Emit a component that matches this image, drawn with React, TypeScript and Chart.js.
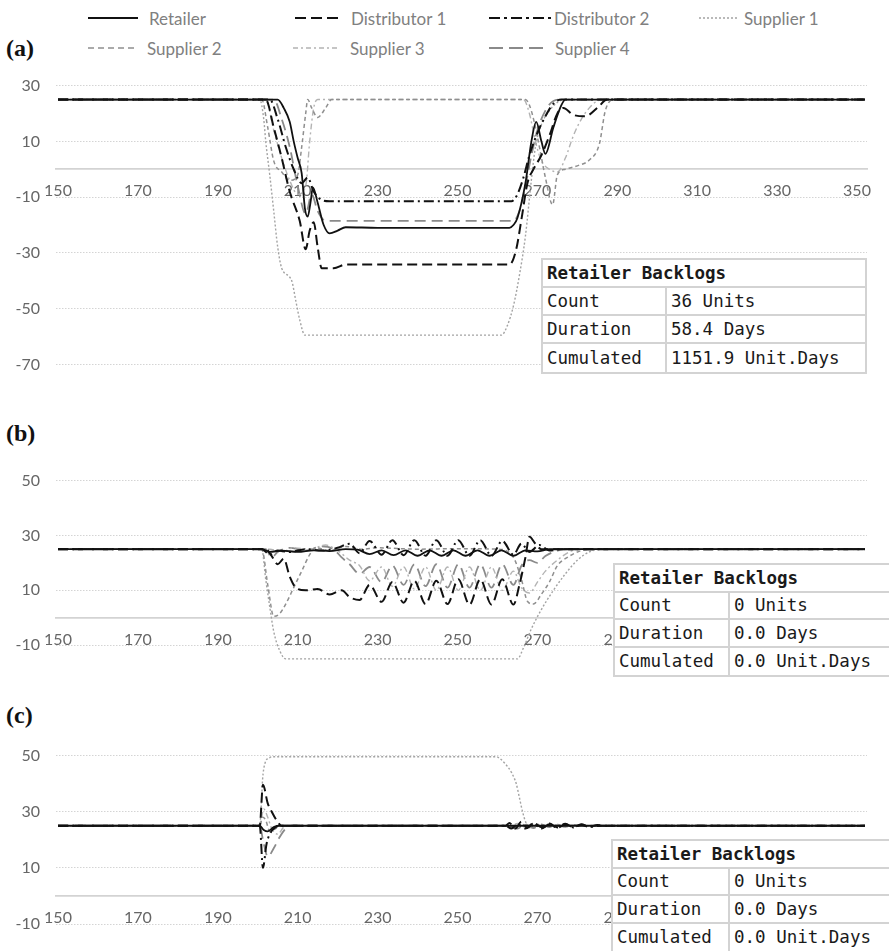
import React, { useEffect, useRef } from 'react';
import { Chart, registerables } from 'chart.js';

Chart.register(...registerables);

type Pt = [number, number];

// ---------- axis ticks ----------
const X_TICKS = [150, 170, 190, 210, 230, 250, 270, 290, 310, 330, 350];
const Y_TICKS_A = [-70, -50, -30, -10, 10, 30];
const Y_TICKS_BC = [-10, 10, 30, 50];

// ---------- series names ----------
const SERIES_NAMES = ['Retailer', 'Distributor 1', 'Distributor 2', 'Supplier 1', 'Supplier 2', 'Supplier 3', 'Supplier 4'];

// ---------- panel (a) ----------
const A_RETAILER: Pt[] = [[150, 25], [205, 25], [206.5, 22], [208, 17], [209, 10], [210, 4], [211, -1.5], [211.8, -14], [212.5, -17], [213.2, -12], [213.8, -6.5], [215, -12], [216.5, -20], [218, -23], [220, -22], [222, -20.8], [230, -21], [263, -21], [264, -20], [265, -17.5], [267, -5], [268.5, 10], [269.7, 17], [271, 10], [272, 5.5], [274, 15], [276, 23], [277, 25], [352, 25]];
const A_DIST1: Pt[] = [[150, 25], [202, 25], [204, 15], [206, 4], [208, -8], [210.5, -18.5], [212, -28.7], [213, -22], [214, -19], [215, -28], [216, -35.5], [219, -35.5], [222, -34.2], [263, -34.2], [264.7, -28.7], [266, -18], [267.5, -5], [269, 0], [271, 5], [273, 12], [275, 20], [276.5, 22], [279, 19.5], [282, 19], [285, 22], [287.5, 25], [352, 25]];
const A_DIST2: Pt[] = [[150, 25], [203, 25], [205, 18], [207, 8], [209, 0], [211, -5], [212.5, -3], [214, -8], [216, -11], [218, -11.5], [263.5, -11.5], [265, -9], [266.5, -3], [268, 5], [270, 13], [272, 19], [274, 23.5], [276, 25], [352, 25]];
const A_SUP1: Pt[] = [[150, 25], [200.5, 25], [201.5, 18], [202, 10], [203, -2], [204, -15], [205, -28], [206, -35.5], [208.5, -40], [209.5, -47], [210.5, -54], [211.8, -59.5], [261, -59.5], [262.5, -56], [264, -49], [265.5, -38], [267, -24], [268.4, -5], [269.5, 8], [271, 16], [273, 21], [275, 24], [277, 25], [352, 25]];
const A_SUP2: Pt[] = [[150, 25], [201, 25], [202.5, 15], [204, 3], [206, -1], [208, -4], [210, -2], [211, 8], [212, 20], [212.5, 25], [213.5, 22], [215, 18.6], [217, 22], [218.5, 25], [267, 25], [268, 23], [269.2, 17], [270.5, 8], [272, -3], [273.8, -12.7], [275, -2], [277, 0], [280.5, 1.5], [283, 3.3], [285.5, 9], [287, 21], [289, 25], [352, 25]];
const A_SUP3: Pt[] = [[150, 25], [202, 25], [204, 14], [206, 4], [208, -4], [210, -9], [212, -6], [213, 10], [214, 22], [215, 25], [266.5, 25], [268, 20], [269.5, 10], [271, 3], [273, 0], [275, -1], [277, 4], [279, 12], [281, 18], [283, 22], [285, 24.5], [287, 25], [352, 25]];
const A_SUP4: Pt[] = [[150, 25], [204, 25], [206, 18], [208, 8], [210, -6], [212, -16], [213.5, -9], [215, -15], [217, -18.5], [264, -18.5], [265.5, -15], [267, -6], [268.5, 5], [270, 14], [272, 21], [274, 24.5], [276, 25], [352, 25]];

// ---------- panel (b) ----------
const B_RETAILER: Pt[] = [[150, 25], [201, 25], [203, 24], [206, 24.5], [210, 24], [214, 24.6], [218, 24.3], [222, 25], [225, 24.8], [228, 23.2], [231, 24.6], [234, 22.8], [237, 24.6], [240, 22.6], [243, 24.6], [246, 22.6], [249, 24.6], [252, 22.6], [255, 24.6], [258, 22.6], [261, 24.6], [264, 22.6], [267, 24.6], [270, 24.2], [273, 25], [352, 25]];
const B_DIST1: Pt[] = [[150, 25], [202, 25], [203.5, 22.5], [205, 19.5], [206.5, 21.5], [208, 15], [209.5, 11], [212, 10], [215, 10.5], [218, 8.5], [221, 10], [223, 7.5], [225.5, 6.5], [228, 12], [231, 5.8], [233.7, 13], [236.5, 5.5], [239.2, 13.5], [242, 5], [244.7, 13.5], [247.5, 5], [250.2, 14], [253, 4.8], [255.7, 14], [258.5, 4.8], [261.2, 14], [264, 4.8], [265.5, 12], [267, 22], [268, 29.5], [269.5, 27], [271, 25], [352, 25]];
const B_DIST2: Pt[] = [[150, 25], [201, 25], [203, 23], [205, 24.5], [208, 24], [212, 25], [216, 24.5], [220, 25.5], [223, 27], [225.5, 23.5], [228, 28], [231, 23], [233.7, 28.3], [236.5, 22.8], [239.2, 28.3], [242, 22.6], [244.7, 28.3], [247.5, 22.6], [250.2, 28.3], [253, 22.6], [255.7, 28.3], [258.5, 22.6], [261.2, 28], [264, 23], [266, 27], [268, 24], [270.5, 26.5], [273, 24.5], [276, 25], [352, 25]];
const B_SUP1: Pt[] = [[150, 25], [201, 25], [202, 14], [203, 4], [204, -5], [205.5, -12], [207, -15], [265, -15], [266.5, -11], [268.5, -4], [271, 3], [274, 10], [277, 16], [280, 21], [283, 24], [286, 25], [352, 25]];
const B_SUP2: Pt[] = [[150, 25], [201, 25], [202.5, 12], [204, 0.5], [205.5, 1.5], [207, 5], [209, 11], [211, 17], [213, 23], [214.5, 25.5], [218, 24.5], [222, 26], [226, 25], [230, 25.5], [240, 25], [250, 25.2], [260, 25], [264, 22], [266, 14], [267.5, 6], [269, 5], [271, 8.6], [273, 13], [275, 19], [277.5, 22], [281, 24.5], [284, 25], [352, 25]];
const B_SUP3: Pt[] = [[150, 25], [203, 25], [206, 24], [209, 25.5], [213, 25], [217, 26.5], [220, 24.5], [223, 21], [225.5, 19], [228, 13.5], [231, 18.5], [233.7, 11.5], [236.5, 18.5], [239.2, 10.5], [242, 18.5], [244.7, 10], [247.5, 18.5], [250.2, 10], [253, 18.5], [255.7, 10], [258.5, 18.5], [261.2, 10], [264, 17], [266, 11], [268, 9], [270, 13], [272, 17], [275, 21], [278, 24], [281, 25], [352, 25]];
const B_SUP4: Pt[] = [[150, 25], [202, 25], [203.5, 22], [205, 24], [208, 25.5], [212, 24.5], [216, 26], [219, 25], [221, 22], [223, 19.5], [225.5, 16], [228, 18.5], [231, 13], [233.7, 19], [236.5, 12], [239.2, 19.5], [242, 11.5], [244.7, 19.5], [247.5, 11], [250.2, 19.5], [253, 11], [255.7, 19.5], [258.5, 11], [261.2, 19.5], [264, 12], [266, 19], [268, 21], [270, 20], [272, 22.5], [275, 24.5], [278, 25], [352, 25]];

// ---------- panel (c) ----------
const C_RETAILER: Pt[] = [[150, 25], [200.5, 25], [201.5, 23.5], [202.5, 23], [204, 24.5], [205.5, 25], [352, 25]];
const C_DIST1: Pt[] = [[150, 25], [200.5, 25], [201.3, 39.6], [202.5, 33], [203.5, 30], [204.7, 27], [206, 25], [262, 25], [263, 26], [264.5, 24], [266, 26.5], [267.5, 24.2], [269, 26], [271, 24.5], [273, 25.8], [275, 24.4], [277, 25.7], [279, 24.5], [281, 25.5], [283, 24.6], [285, 25.3], [287, 25], [352, 25]];
const C_DIST2: Pt[] = [[150, 25], [200.5, 25], [201.3, 10], [202.2, 18.5], [203.4, 23], [204.5, 24.5], [206, 25], [262, 25], [263.5, 24], [265, 25.5], [267, 24], [269, 25.8], [271, 24], [273, 25.5], [275, 24.3], [277, 25.5], [279, 24.4], [281, 25.4], [283, 24.6], [286, 25], [352, 25]];
const C_SUP1: Pt[] = [[150, 25], [200.5, 25], [200.9, 33], [201.2, 41.3], [201.75, 47], [203, 49.3], [204, 49.6], [259.7, 49.6], [261, 48.5], [262, 47], [263.5, 44], [264.7, 40], [265.5, 35], [266.3, 29.9], [267.2, 25.9], [268, 25], [352, 25]];
const C_SUP2: Pt[] = [[150, 25], [200.5, 25], [201.2, 28], [202, 27], [203, 23], [204.5, 24], [206, 25], [262, 25], [264, 24.2], [266, 25.6], [268, 24.3], [270, 25.5], [272, 24.5], [274, 25.3], [276, 24.6], [278, 25.2], [281, 25], [352, 25]];
const C_SUP3: Pt[] = [[150, 25], [200.5, 25], [201.5, 31], [202.5, 28], [203.5, 24], [205, 22], [206.5, 24.5], [208, 25], [263, 25], [265, 25.8], [267, 24.5], [269, 25.6], [271, 24.6], [274, 25.4], [277, 24.8], [280, 25.2], [284, 25], [352, 25]];
const C_SUP4: Pt[] = [[150, 25], [200.5, 25], [201.3, 20], [202.5, 14], [204, 17], [205.5, 21], [207, 24], [208.5, 25], [263, 25], [265, 24], [267, 25.5], [269, 24.2], [271, 25.5], [273, 24.5], [275, 25.4], [277, 24.6], [279, 25.3], [282, 25], [352, 25]];

// ---------- tables ----------
const TABLE_TITLE = 'Retailer Backlogs';
const TABLE_LABELS = ['Count', 'Duration', 'Cumulated'];
const TABLE_A_VALUES = ['36 Units', '58.4 Days', '1151.9 Unit.Days'];
const TABLE_B_VALUES = ['0 Units', '0.0 Days', '0.0 Unit.Days'];
const TABLE_C_VALUES = ['0 Units', '0.0 Days', '0.0 Unit.Days'];

// ---------- styles ----------
const STYLES = [
  { color: '#111111', width: 1.8, dash: [] as number[] },
  { color: '#111111', width: 2, dash: [10, 5] },
  { color: '#111111', width: 2, dash: [10, 4, 2, 4] },
  { color: '#a3a3a3', width: 1.4, dash: [2, 2] },
  { color: '#8f8f8f', width: 1.5, dash: [4, 3] },
  { color: '#b3b3b3', width: 1.4, dash: [6, 3, 2, 3] },
  { color: '#8a8a8a', width: 1.8, dash: [11, 6] },
];

const LEGEND_DASH = ['', '11 5', '11 4 3 4', '2 2', '6 4', '5 3 2 3', '14 6'];

const LEGEND_POS = [
  { x1: 88, x2: 138, tx: 149, y: 18 },
  { x1: 295, x2: 341, tx: 351, y: 18 },
  { x1: 489, x2: 551, tx: 554, y: 18 },
  { x1: 699, x2: 739, tx: 744, y: 18 },
  { x1: 88, x2: 137, tx: 147, y: 48 },
  { x1: 293, x2: 340, tx: 350, y: 48 },
  { x1: 489, x2: 545, tx: 555, y: 48 },
];

const TICK_FONT = { family: 'Lato', size: 16 };

type PanelProps = {
  top: number; height: number; padTop: number; padBottom: number;
  yMin: number; yMax: number; yTicks: number[]; series: Pt[][];
};

function Panel({ top, height, padTop, padBottom, yMin, yMax, yTicks, series }: PanelProps) {
  const ref = useRef<HTMLCanvasElement>(null);
  useEffect(() => {
    const chart = new Chart(ref.current as HTMLCanvasElement, {
      type: 'line',
      data: {
        datasets: series.map((pts, i) => ({
          label: SERIES_NAMES[i],
          data: pts.map(([x, y]) => ({ x, y })),
          borderColor: STYLES[i].color,
          backgroundColor: STYLES[i].color,
          borderWidth: STYLES[i].width,
          borderDash: STYLES[i].dash,
          pointRadius: 0,
          fill: false,
          cubicInterpolationMode: 'monotone' as const,
        })),
      },
      options: {
        responsive: false,
        maintainAspectRatio: false,
        animation: false,
        events: [],
        layout: { padding: { left: 0, right: 22, top: padTop, bottom: padBottom } },
        plugins: { legend: { display: false }, tooltip: { enabled: false } },
        scales: {
          x: {
            type: 'linear',
            position: { y: 0 } as any,
            min: 149.5,
            max: 352.5,
            afterBuildTicks: (s: any) => { s.ticks = X_TICKS.map((v) => ({ value: v })); },
            grid: { display: false, drawTicks: false },
            border: { display: true, color: '#d3d3d3', width: 1.8 },
            ticks: { color: '#666666', font: TICK_FONT, padding: 12, maxRotation: 0, autoSkip: false },
          },
          y: {
            type: 'linear',
            min: yMin,
            max: yMax,
            afterBuildTicks: (s: any) => { s.ticks = yTicks.map((v) => ({ value: v })); },
            afterFit: (s: any) => { s.width = 56; },
            grid: { color: '#d4d4d4', lineWidth: 1, drawTicks: false },
            border: { display: false, dash: [1.5, 1.5] },
            ticks: { color: '#666666', font: TICK_FONT, padding: 16 },
          },
        },
      } as any,
    });
    return () => chart.destroy();
  }, []);
  return (
    <canvas
      ref={ref}
      width={889}
      height={height}
      style={{ position: 'absolute', left: 0, top, width: 889, height, display: 'block' }}
    />
  );
}

type TableProps = { left: number; top: number; width: number; col: number; rowH: number; values: string[] };

function BacklogTable({ left, top, width, col, rowH, values }: TableProps) {
  const border = '2px solid #d3d3d3';
  const row = (last: boolean): React.CSSProperties => ({
    boxSizing: 'border-box', height: rowH, display: 'flex', borderBottom: last ? 'none' : border,
  });
  const cell: React.CSSProperties = {
    boxSizing: 'border-box', height: '100%', display: 'flex', alignItems: 'center', paddingLeft: 4,
    whiteSpace: 'nowrap', overflow: 'hidden',
  };
  return (
    <div style={{
      position: 'absolute', left, top, width, background: '#fff', border, boxSizing: 'border-box',
      fontFamily: '"DejaVu Sans Mono", "Liberation Mono", monospace', fontSize: 17.5, color: '#1a1a1a',
    }}>
      <div style={row(false)}>
        <div style={{ ...cell, fontWeight: 'bold', flex: 1 }}>{TABLE_TITLE}</div>
      </div>
      {TABLE_LABELS.map((lab, i) => (
        <div key={lab} style={row(i === TABLE_LABELS.length - 1)}>
          <div style={{ ...cell, width: col, flex: 'none', borderRight: border }}>{lab}</div>
          <div style={{ ...cell, flex: 1 }}>{values[i]}</div>
        </div>
      ))}
    </div>
  );
}

function Legend() {
  return (
    <svg width={889} height={62} style={{ position: 'absolute', left: 0, top: 0 }}>
      {SERIES_NAMES.map((name, i) => {
        const p = LEGEND_POS[i];
        return (
          <g key={name}>
            <line x1={p.x1} x2={p.x2} y1={p.y} y2={p.y} stroke={STYLES[i].color}
              strokeWidth={STYLES[i].width + 0.2} strokeDasharray={LEGEND_DASH[i] || undefined} />
            <text x={p.tx} y={p.y} dominantBaseline="central" fill="#808080"
              style={{ fontFamily: 'Lato', fontSize: 17 }}>{name}</text>
          </g>
        );
      })}
    </svg>
  );
}

const panelLabel = (top: number): React.CSSProperties => ({
  position: 'absolute', left: 6, top, fontFamily: '"Liberation Serif", serif', fontWeight: 'bold',
  fontSize: 24, lineHeight: '24px', color: '#111',
});

export default function App() {
  return (
    <div style={{ position: 'absolute', left: 0, top: 0, width: 889, height: 951, overflow: 'hidden', background: '#fff' }}>
      <Legend />
      <div style={panelLabel(36)}>(a)</div>
      <div style={panelLabel(421)}>(b)</div>
      <div style={panelLabel(703)}>(c)</div>
      <Panel top={60} height={330} padTop={18} padBottom={21} yMin={-70} yMax={30} yTicks={Y_TICKS_A}
        series={[A_RETAILER, A_DIST1, A_DIST2, A_SUP1, A_SUP2, A_SUP3, A_SUP4]} />
      <Panel top={455} height={235} padTop={17} padBottom={22} yMin={-17} yMax={50} yTicks={Y_TICKS_BC}
        series={[B_RETAILER, B_DIST1, B_DIST2, B_SUP1, B_SUP2, B_SUP3, B_SUP4]} />
      <Panel top={730} height={221} padTop={19} padBottom={27} yMin={-10} yMax={50} yTicks={Y_TICKS_BC}
        series={[C_RETAILER, C_DIST1, C_DIST2, C_SUP1, C_SUP2, C_SUP3, C_SUP4]} />
      <BacklogTable left={541} top={258} width={326} col={124} rowH={28} values={TABLE_A_VALUES} />
      <BacklogTable left={613} top={563} width={282} col={115} rowH={27.5} values={TABLE_B_VALUES} />
      <BacklogTable left={611} top={839} width={284} col={117} rowH={27.5} values={TABLE_C_VALUES} />
    </div>
  );
}
